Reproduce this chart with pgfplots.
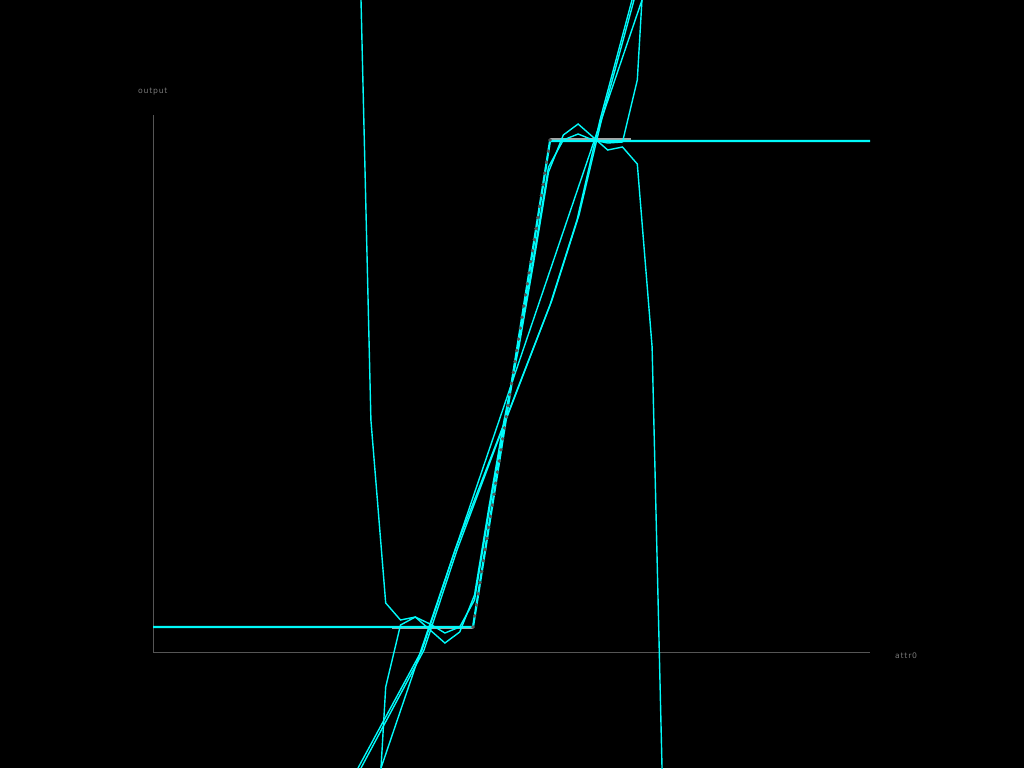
\documentclass[border=0pt]{standalone}
\usepackage{pgfplots}
\pgfplotsset{compat=1.18}
\usepackage{fontspec}
\newfontfamily\lblfont[LetterSpace=10]{DejaVu Sans}
\definecolor{cy}{RGB}{0,250,250}
\definecolor{axc}{RGB}{85,85,85}
\definecolor{txc}{RGB}{120,120,120}
\definecolor{dflat}{RGB}{165,165,165}
\definecolor{ddot}{RGB}{85,85,85}
\begin{document}
\begin{tikzpicture}
\begin{axis}[width=1024pt, height=768pt, scale only axis,
  xmin=0, xmax=1024, ymin=0, ymax=768, y dir=reverse,
  axis line style={draw=none}, xtick=\empty, ytick=\empty,
  axis background/.style={fill=black}, clip=true]
% axis lines
\draw[axc, line width=1pt] (axis cs:153,115) -- (axis cs:153,652) -- (axis cs:870,652);
\node[anchor=base west, text=txc, font=\lblfont\fontsize{7.7}{9}\selectfont, inner sep=0pt] at (axis cs:138,93) {output};
\node[anchor=base west, text=txc, font=\lblfont\fontsize{7.7}{9}\selectfont, inner sep=0pt] at (axis cs:895,658) {attr0};
% data
\addplot[dflat, line width=3pt] coordinates {(392,627)(473,627)};
\addplot[dflat, line width=3pt] coordinates {(550,139.5)(631,139.5)};
\addplot[only marks, mark=*, mark size=1.5pt, ddot, mark options={draw=none, fill=ddot}] coordinates {
(473,627)(474.75,615.9)(476.5,604.9)(478.25,593.8)(480,582.7)(481.75,571.7)(483.5,560.6)(485.25,549.5)
(487,538.5)(488.75,527.4)(490.5,516.3)(492.25,505.2)(494,494.2)(495.75,483.1)(497.5,472.0)(499.25,461.0)
(501,449.9)(502.75,438.8)(504.5,427.8)(506.25,416.7)(508,405.6)(509.75,394.6)(511.5,383.5)(513.25,372.4)
(515,361.4)(516.75,350.3)(518.5,339.2)(520.25,328.1)(522,317.1)(523.75,306.0)(525.5,294.9)(527.25,283.9)
(529,272.8)(530.75,261.7)(532.5,250.7)(534.25,239.6)(536,228.5)(537.75,217.5)(539.5,206.4)(541.25,195.3)
(543,184.3)(544.75,173.2)(546.5,162.1)(548.25,151.1)(550,140)};
% step model
\addplot[cy, line width=2.2pt] coordinates {(153,627)(473,627)(550,141)(870,141)};
% high-degree polynomial
\addplot[cy, line width=1.4pt] coordinates {
(356.1,-208)(370.9,420)(385.7,603)(400.5,620)(415.3,617)(430.1,630)(444.9,643)(459.7,632)
(474.5,595)(489.3,505)(504.1,420)(518.9,347)(533.7,262)(548.5,172)(563.3,135)(578.1,124)
(592.9,137)(607.7,150)(622.5,147)(637.3,164)(652.1,347)(666.9,975)};
% second polynomial
\addplot[cy, line width=1.4pt] coordinates {
(370.9,942)(385.7,687)(400.5,625)(415.3,617)(430.1,624)(444.9,633)(459.7,627)(474.5,600)
(489.3,510)(504.1,425)(518.9,342)(533.7,257)(548.5,167)(563.3,140)(578.1,134)(592.9,140)
(607.7,143)(622.5,142)(637.3,80)(652.1,-175)};
% linear fit
\addplot[cy, line width=1.4pt] coordinates {(381,768)(642,0)};
% low-degree fits
\addplot[cy, line width=1.4pt] coordinates {
(358,768)(422,650)(455,550)(500,434)(550,305)(577,220)(600,120)(632,0)};
\addplot[cy, line width=1.4pt] coordinates {
(361,768)(424,650)(457,550)(502,430)(552,300)(579,215)(602,118)(634,0)};
\end{axis}
\end{tikzpicture}
\end{document}
